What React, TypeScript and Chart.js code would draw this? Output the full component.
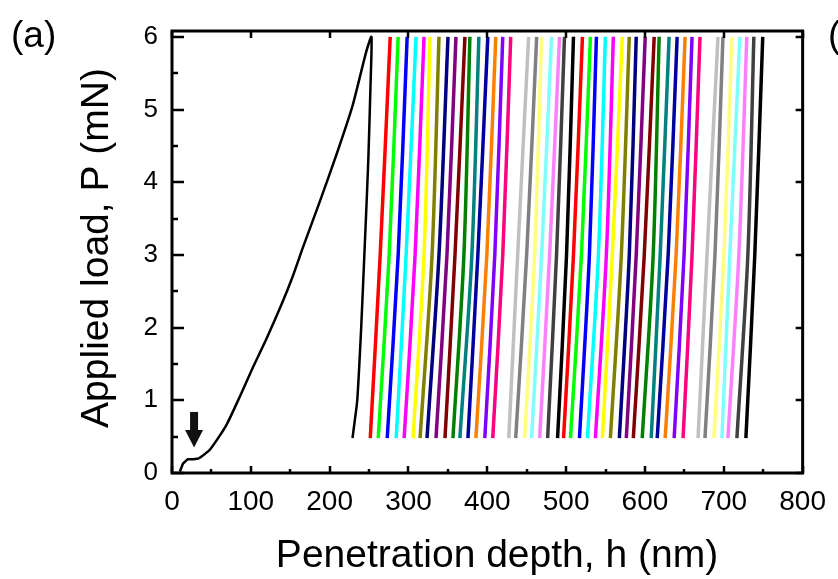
import React, { useEffect, useRef } from "react";
import { Chart, registerables } from "chart.js";

Chart.register(...registerables);

// Origin-style default colour palette (cycle colours)
const PALETTE = [
  "#000000", "#FF0000", "#00FF00", "#0000FF", "#00FFFF", "#FF00FF", "#FFFF00", "#808000",
  "#000080", "#800080", "#800000", "#008000", "#008080", "#0000A0", "#FF8000", "#8000FF",
  "#FF0080", "#FFFFFF", "#C0C0C0", "#808080", "#FFFF80", "#80FFFF", "#FF80FF", "#404040",
];

// Initial contact foot of the first loading curve (nm, mN)
const footX = [10, 14, 20, 27, 34];
const footY = [0.02, 0.13, 0.19, 0.19, 0.2];
// First loading + unloading curve (nm, mN)
const loadX = [34, 48, 69, 86, 103, 120, 139, 153, 166, 187, 208, 229, 246, 253, 252, 249, 246, 244, 240, 235, 231, 229];
const loadY = [0.2, 0.32, 0.66, 1.05, 1.46, 1.85, 2.32, 2.7, 3.1, 3.72, 4.36, 5.05, 5.78, 6.0, 5.4, 4.3, 3.5, 3.0, 2.0, 1.0, 0.65, 0.48];

// Subsequent cycles: depth at minimum load, mid load and peak load (nm)
const cycleBottomX = [
  251.5, 261.6, 273.0, 284.4, 294.5, 305.8, 314.7, 323.5, 334.9, 346.3, 356.4, 365.2, 375.4, 385.5, 396.8, 406.9,
  417.0, 427.2, 436.0, 447.4, 456.2, 466.4, 476.5, 489.1,
  496.7, 505.5, 516.9, 527.0, 537.1, 546.0, 556.1, 567.5, 576.3, 585.2, 596.5, 607.9, 615.5, 625.6, 637.0, 648.3,
  657.0, 667.3, 676.1, 687.5, 697.6, 705.2, 716.6, 728.0,
];
const cycleMidX = [
  264.1, 275.5, 286.9, 297.0, 308.4, 319.7, 329.9, 338.7, 348.8, 359.0, 370.3, 380.4, 388.0, 399.4, 409.5, 419.6,
  429.7, 438.5, 449.9, 460.0, 468.9, 479.0, 487.8, 500.5,
  509.3, 519.4, 529.5, 540.9, 551.0, 558.6, 570.0, 580.1, 588.9, 599.1, 610.4, 619.3, 629.4, 639.5, 649.6, 659.7,
  668.6, 678.7, 688.8, 700.2, 707.7, 719.1, 730.5, 739.3,
];
const cycleTopX = [
  276.8, 286.9, 298.3, 309.6, 319.7, 327.3, 338.7, 350.1, 360.2, 371.6, 377.9, 389.3, 400.6, 410.7, 419.6, 429.7,
  441.0, 452.4, 462.6, 468.9, 481.5, 491.6, 497.9, 509.3,
  520.7, 530.8, 538.4, 549.8, 559.9, 571.3, 580.1, 588.9, 600.3, 611.7, 618.0, 630.6, 640.8, 650.9, 659.7, 669.8,
  681.0, 692.6, 698.9, 710.3, 720.4, 729.2, 738.1, 749.4,
];
const CYCLE_MIN_LOAD = 0.48;
const CYCLE_MID_LOAD = 3.0;
const CYCLE_MAX_LOAD = 6.0;

// Axis ticks
const xMajorTicks = [0, 100, 200, 300, 400, 500, 600, 700, 800];
const xMinorTicks = [50, 150, 250, 350, 450, 550, 650, 750];
const yMajorTicks = [0, 1, 2, 3, 4, 5, 6];
const yMinorTicks = [0.5, 1.5, 2.5, 3.5, 4.5, 5.5];

// Arrow marker (pop-in)
const arrowX = 28;
const arrowTop = 0.84;
const arrowHeadBase = 0.59;
const arrowTip = 0.35;

const FONT = "'Liberation Sans', Arial, sans-serif";

const framePlugin = {
  id: "frameAndText",
  afterDraw(chart: any) {
    const ctx = chart.ctx;
    const { left, right, top, bottom } = chart.chartArea;
    const xs = chart.scales.x;
    const ys = chart.scales.y;
    ctx.save();
    ctx.strokeStyle = "#000";
    ctx.fillStyle = "#000";
    // ticks
    ctx.lineWidth = 2.5;
    ctx.beginPath();
    for (const v of xMajorTicks) {
      const px = Math.round(xs.getPixelForValue(v));
      ctx.moveTo(px, bottom); ctx.lineTo(px, bottom - 7);
      ctx.moveTo(px, top); ctx.lineTo(px, top + 7);
    }
    for (const v of xMinorTicks) {
      const px = Math.round(xs.getPixelForValue(v));
      ctx.moveTo(px, bottom); ctx.lineTo(px, bottom - 4);
    }
    for (const v of yMajorTicks) {
      const py = Math.round(ys.getPixelForValue(v));
      ctx.moveTo(left, py); ctx.lineTo(left + 12, py);
      ctx.moveTo(right, py); ctx.lineTo(right - 7, py);
    }
    for (const v of yMinorTicks) {
      const py = Math.round(ys.getPixelForValue(v));
      ctx.moveTo(left, py); ctx.lineTo(left + 6, py);
    }
    ctx.stroke();
    // frame
    ctx.lineWidth = 3;
    ctx.strokeRect(left, top, right - left, bottom - top);

    // arrow
    const ax = xs.getPixelForValue(arrowX);
    const aTop = ys.getPixelForValue(arrowTop);
    const aBase = ys.getPixelForValue(arrowHeadBase);
    const aTip = ys.getPixelForValue(arrowTip);
    ctx.fillStyle = "#111";
    ctx.fillRect(ax - 4, aTop, 8, aBase - aTop + 1);
    ctx.beginPath();
    ctx.moveTo(ax - 9, aBase);
    ctx.lineTo(ax + 9, aBase);
    ctx.lineTo(ax, aTip);
    ctx.closePath();
    ctx.fill();

    // titles
    ctx.fillStyle = "#000";
    ctx.font = `39px ${FONT}`;
    ctx.textAlign = "center";
    ctx.textBaseline = "alphabetic";
    ctx.fillText("Penetration depth, h (nm)", 497, 567);
    ctx.save();
    ctx.translate(108, 248);
    ctx.rotate(-Math.PI / 2);
    ctx.fillText("Applied load, P (mN)", 0, 0);
    ctx.restore();
    ctx.font = `37px ${FONT}`;
    ctx.textAlign = "left";
    ctx.fillText("(a)", 11, 47);
    ctx.fillText("(b)", 828, 47);
    ctx.restore();
  },
};

export default function App() {
  const ref = useRef<HTMLCanvasElement | null>(null);
  useEffect(() => {
    document.body.style.margin = "0";
    const canvas = ref.current!;
    const datasets: any[] = [];
    datasets.push({
      data: footX.map((x, i) => ({ x, y: footY[i] })),
      borderColor: "#000",
      borderWidth: 2.5,
      pointRadius: 0,
      showLine: true,
      tension: 0,
    });
    datasets.push({
      data: loadX.map((x, i) => ({ x, y: loadY[i] })),
      borderColor: "#000",
      borderWidth: 2.5,
      pointRadius: 0,
      showLine: true,
      tension: 0.2,
    });
    cycleBottomX.forEach((bx, i) => {
      datasets.push({
        data: [
          { x: bx, y: CYCLE_MIN_LOAD },
          { x: cycleMidX[i], y: CYCLE_MID_LOAD },
          { x: cycleTopX[i], y: CYCLE_MAX_LOAD },
        ],
        borderColor: PALETTE[(i + 1) % PALETTE.length],
        borderWidth: 3.5,
        pointRadius: 0,
        showLine: true,
        tension: 0.3,
      });
    });
    const chart = new Chart(canvas, {
      type: "scatter",
      data: { datasets },
      options: {
        animation: false,
        responsive: false,
        devicePixelRatio: 1,
        layout: { padding: { left: 0, top: 31, right: 33, bottom: 0 } },
        plugins: { legend: { display: false }, tooltip: { enabled: false } },
        scales: {
          x: {
            type: "linear",
            min: 0,
            max: 800,
            border: { display: false },
            grid: { display: false, drawTicks: false },
            ticks: {
              stepSize: 100,
              includeBounds: false,
              autoSkip: false,
              maxRotation: 0,
              padding: 12,
              color: "#000",
              font: { family: FONT, size: 28 },
            },
            afterFit: (s: any) => { s.height = 106; },
          },
          y: {
            type: "linear",
            min: 0,
            max: 6.08,
            border: { display: false },
            grid: { display: false, drawTicks: false },
            ticks: {
              stepSize: 1,
              includeBounds: false,
              autoSkip: false,
              padding: 14,
              color: "#000",
              font: { family: FONT, size: 26 },
            },
            afterFit: (s: any) => { s.width = 172; },
          },
        },
      },
      plugins: [framePlugin],
    });
    return () => chart.destroy();
  }, []);
  return (
    <div style={{ position: "absolute", left: 0, top: 0, width: 838, height: 579, background: "#fff" }}>
      <canvas ref={ref} width={838} height={579} style={{ display: "block" }} />
    </div>
  );
}
